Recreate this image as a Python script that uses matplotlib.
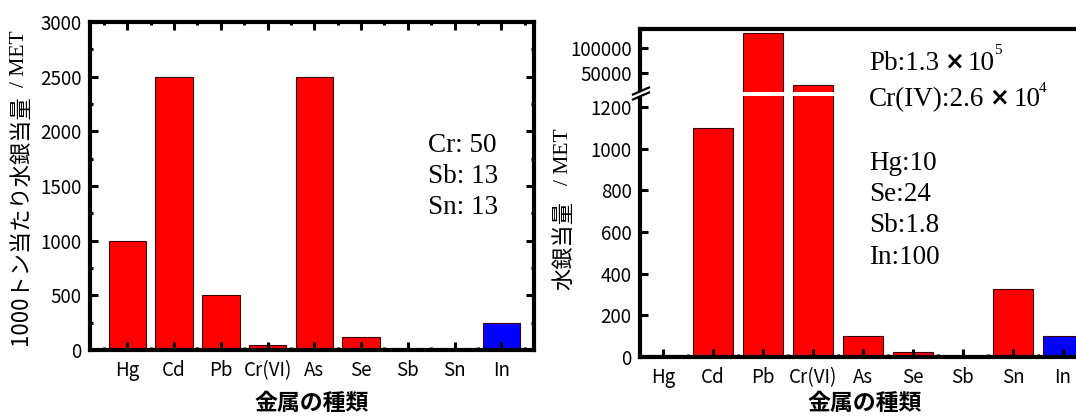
import numpy as np
import matplotlib
matplotlib.use("Agg")
import matplotlib.pyplot as plt
from matplotlib.ticker import MultipleLocator, FixedLocator
from matplotlib.patches import Polygon

plt.rcParams['font.family'] = ['Noto Sans CJK JP', 'DejaVu Sans']
plt.rcParams['mathtext.fontset'] = 'stix'

metals = ['Hg', 'Cd', 'Pb', 'Cr(VI)', 'As', 'Se', 'Sb', 'Sn', 'In']
per_1000t = [1000, 2500, 500, 50, 2500, 120, 13, 13, 250]
met_total = [10, 1100, 130000, 26000, 100, 24, 1.8, 325, 100]
bar_colors = ['#ff0000'] * 8 + ['#0000ff']

left_notes = ['Cr: 50', 'Sb: 13', 'Sn: 13']
# (prefix, exponent) for the two large values
right_notes_exp = [('Pb:1.3', '5'), ('Cr(IV):2.6', '4')]
right_notes = ['Hg:10', 'Se:24', 'Sb:1.8', 'In:100']

W, H = 1076, 416
fig = plt.figure(figsize=(W / 100, H / 100), dpi=100)
renderer = fig.canvas.get_renderer()
serif = 'Liberation Serif'


def px_axes(left, top, right, bottom):
    return fig.add_axes([left / W, 1 - bottom / H, (right - left) / W, (bottom - top) / H])


def px(xp, yp):
    return xp / W, 1 - yp / H


def right_edge(t):
    bb = t.get_window_extent(renderer=renderer)
    return bb.x1 / fig.dpi / fig.get_figwidth()


def style_axes(ax, lw=3):
    for s in ax.spines.values():
        s.set_linewidth(lw)
    ax.tick_params(which='both', direction='in', width=2.2, labelsize=13.5,
                   colors='black')
    ax.tick_params(which='major', length=5.5)
    ax.tick_params(which='minor', length=2.5)
    ax.tick_params(axis='y', pad=6)
    ax.tick_params(axis='x', pad=7)


x = np.arange(len(metals))

# ---- left: per 1000 t ----
ax1 = px_axes(90, 22, 534, 350)
ax1.bar(x, per_1000t, width=0.8, color=bar_colors, edgecolor='#3a0000', linewidth=0.8)
ax1.set_xlim(-0.8, 8.7)
ax1.set_ylim(0, 3000)
ax1.set_xticks(x, metals)
ax1.xaxis.set_minor_locator(FixedLocator(np.arange(-0.5, 9, 1)))
ax1.yaxis.set_major_locator(MultipleLocator(500))
ax1.yaxis.set_minor_locator(MultipleLocator(250))
style_axes(ax1)
ax1.tick_params(which='both', top=True, right=True)

for i, s in enumerate(left_notes):
    fig.text(*px(428, 146 + 31 * i), s, family=serif, fontsize=19.5, va='center', ha='left')

# ---- right: total, broken axis ----
LO_TOP, HI_BOT = 1253.0, 12600.0
LO_K, HI_K = 4.8, 2000.0
LO_PX = LO_TOP / LO_K
GAP_PX = 4.0


def fwd(y):
    y = np.asarray(y, dtype=float)
    mid = LO_PX + (y - LO_TOP) * GAP_PX / (HI_BOT - LO_TOP)
    hi = LO_PX + GAP_PX + (y - HI_BOT) / HI_K
    return np.where(y <= LO_TOP, y / LO_K, np.where(y >= HI_BOT, hi, mid))


def inv(s):
    s = np.asarray(s, dtype=float)
    mid = LO_TOP + (s - LO_PX) * (HI_BOT - LO_TOP) / GAP_PX
    hi = HI_BOT + (s - LO_PX - GAP_PX) * HI_K
    return np.where(s <= LO_PX, s * LO_K, np.where(s >= LO_PX + GAP_PX, hi, mid))


ax2 = px_axes(640, 29, 1093, 357)
ax2.set_yscale('function', functions=(fwd, inv))
ax2.bar(x, met_total, width=0.8, color=bar_colors, edgecolor='#3a0000', linewidth=0.8, zorder=1)
ax2.axhspan(LO_TOP, HI_BOT, color='white', lw=0, zorder=1.5)
ax2.set_xlim(-0.46, 8.6)
ax2.set_ylim(0, 138600)
yt = [0, 200, 400, 600, 800, 1000, 1200, 50000, 100000]
ax2.set_yticks(yt, [str(v) for v in yt])
ax2.yaxis.set_minor_locator(FixedLocator([]))
ax2.set_xticks(x, metals)
ax2.xaxis.set_minor_locator(FixedLocator(np.arange(-0.5, 9, 1)))
style_axes(ax2)
ax2.tick_params(axis='y', length=6)

# break mark on the left spine
cx, cy = 641, 94
dx = 8
top_line = [(cx - dx, cy + 0.5), (cx + dx, cy - 6.5)]
bot_line = [(cx - dx, cy + 5.5), (cx + dx, cy - 1.5)]
poly = Polygon([px(*p) for p in top_line + bot_line[::-1]], closed=True,
               transform=fig.transFigure, facecolor='white', edgecolor='none', zorder=5)
fig.add_artist(poly)
for ln in (top_line, bot_line):
    xs, ys = zip(*[px(*p) for p in ln])
    fig.add_artist(plt.Line2D(xs, ys, transform=fig.transFigure, color='black', lw=1.6, zorder=6))

# value notes; the multiplication sign is set in a heavy sans face
for i, (head, ex) in enumerate(right_notes_exp):
    yy = 1 - (63 + 37 * i) / H
    t = fig.text(869 / W, yy, head, family=serif, fontsize=19.5, va='center', ha='left')
    xx = right_edge(t) + 5 / W
    t = fig.text(xx, yy + 2 / H, '×', family='DejaVu Sans', fontweight='bold', fontsize=17,
                 va='center', ha='left')
    xx = right_edge(t) + 4 / W
    t = fig.text(xx, yy, '10', family=serif, fontsize=19.5, va='center', ha='left')
    xx = right_edge(t) - 1 / W
    fig.text(xx, yy + 12 / H, ex, family=serif, fontsize=11, va='center', ha='left')

for i, s in enumerate(right_notes):
    fig.text(*px(869, 163 + 31.5 * i), s, family=serif, fontsize=19.5, va='center', ha='left')


# ---- axis titles ----
def ylabel(xp, ybot, jp, unit, gap):
    t = fig.text(*px(xp, ybot), jp, rotation=90, ha='center', va='bottom', fontsize=16)
    bb = t.get_window_extent(renderer=renderer)
    top = fig.transFigure.inverted().transform((0, bb.y1))[1]
    fig.text(xp / W, top + gap / H, unit, rotation=90, ha='center', va='bottom',
             family=serif, fontsize=15.5)


ylabel(20, 345, '1000トン当たり水銀当量', '/ MET', 8)
ylabel(564, 290, '水銀当量', '/ MET', 16)

fig.text(*px(312, 404), '金属の種類', ha='center', va='center', fontsize=16.5, fontweight='bold')
fig.text(*px(865, 404), '金属の種類', ha='center', va='center', fontsize=16.5, fontweight='bold')

fig.savefig('out.png', dpi=100)
